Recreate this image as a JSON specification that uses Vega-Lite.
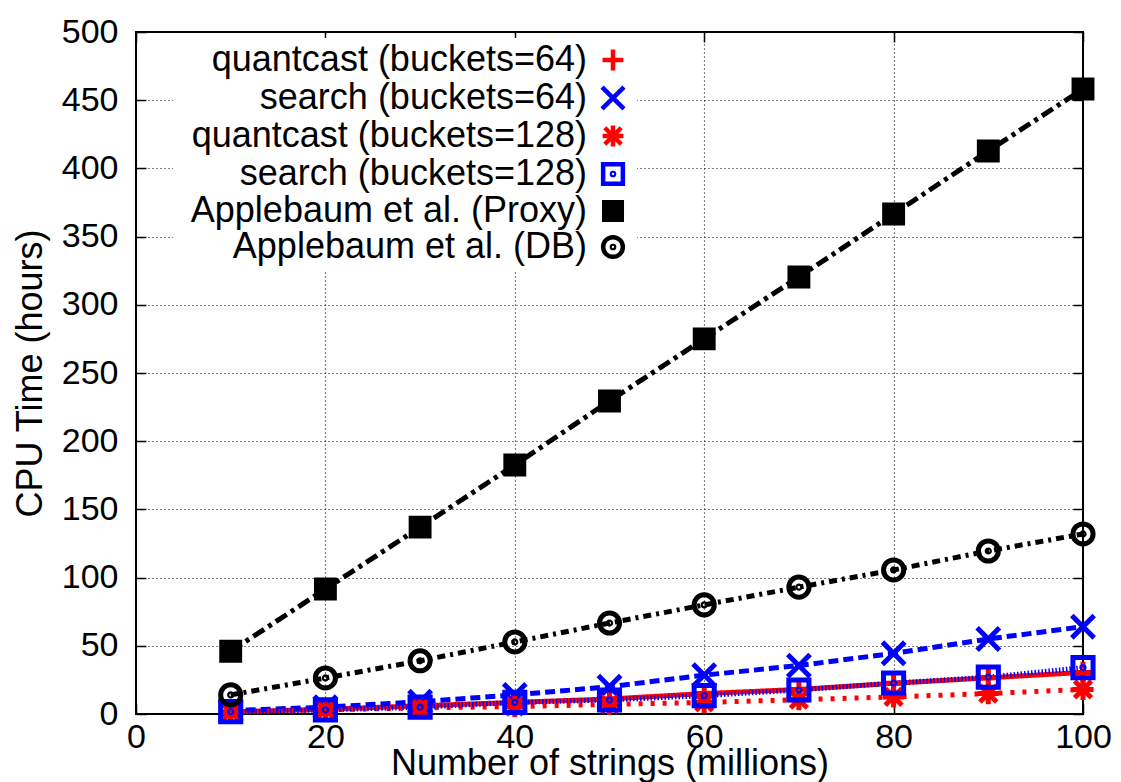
{
  "$schema": "https://vega.github.io/schema/vega-lite/v6.json",
  "autosize": {"type": "none"},
  "width": 947,
  "height": 682,
  "padding": {"left": 136, "top": 32, "right": 38, "bottom": 68},
  "background": "white",
  "data": {
    "values": [
      {"n": 10, "series": "quantcast (buckets=64)", "t": 1.5},
      {"n": 20, "series": "quantcast (buckets=64)", "t": 3.5},
      {"n": 30, "series": "quantcast (buckets=64)", "t": 6},
      {"n": 40, "series": "quantcast (buckets=64)", "t": 8.5},
      {"n": 50, "series": "quantcast (buckets=64)", "t": 11},
      {"n": 60, "series": "quantcast (buckets=64)", "t": 15},
      {"n": 70, "series": "quantcast (buckets=64)", "t": 18},
      {"n": 80, "series": "quantcast (buckets=64)", "t": 22.5},
      {"n": 90, "series": "quantcast (buckets=64)", "t": 26.5},
      {"n": 100, "series": "quantcast (buckets=64)", "t": 30.5},
      {"n": 10, "series": "search (buckets=64)", "t": 2.5},
      {"n": 20, "series": "search (buckets=64)", "t": 5},
      {"n": 30, "series": "search (buckets=64)", "t": 9},
      {"n": 40, "series": "search (buckets=64)", "t": 14},
      {"n": 50, "series": "search (buckets=64)", "t": 20},
      {"n": 60, "series": "search (buckets=64)", "t": 28.5},
      {"n": 70, "series": "search (buckets=64)", "t": 35.5},
      {"n": 80, "series": "search (buckets=64)", "t": 44.5},
      {"n": 90, "series": "search (buckets=64)", "t": 55},
      {"n": 100, "series": "search (buckets=64)", "t": 64},
      {"n": 10, "series": "quantcast (buckets=128)", "t": 1.5},
      {"n": 20, "series": "quantcast (buckets=128)", "t": 3},
      {"n": 30, "series": "quantcast (buckets=128)", "t": 4.5},
      {"n": 40, "series": "quantcast (buckets=128)", "t": 5.5},
      {"n": 50, "series": "quantcast (buckets=128)", "t": 7},
      {"n": 60, "series": "quantcast (buckets=128)", "t": 8.5},
      {"n": 70, "series": "quantcast (buckets=128)", "t": 10.5},
      {"n": 80, "series": "quantcast (buckets=128)", "t": 12.5},
      {"n": 90, "series": "quantcast (buckets=128)", "t": 15},
      {"n": 100, "series": "quantcast (buckets=128)", "t": 18},
      {"n": 10, "series": "search (buckets=128)", "t": 1.7},
      {"n": 20, "series": "search (buckets=128)", "t": 3},
      {"n": 30, "series": "search (buckets=128)", "t": 5},
      {"n": 40, "series": "search (buckets=128)", "t": 8.5},
      {"n": 50, "series": "search (buckets=128)", "t": 10.3},
      {"n": 60, "series": "search (buckets=128)", "t": 13.5},
      {"n": 70, "series": "search (buckets=128)", "t": 17.6},
      {"n": 80, "series": "search (buckets=128)", "t": 22.7},
      {"n": 90, "series": "search (buckets=128)", "t": 27},
      {"n": 100, "series": "search (buckets=128)", "t": 34},
      {"n": 10, "series": "Applebaum et al. (Proxy)", "t": 46},
      {"n": 20, "series": "Applebaum et al. (Proxy)", "t": 91.6},
      {"n": 30, "series": "Applebaum et al. (Proxy)", "t": 137},
      {"n": 40, "series": "Applebaum et al. (Proxy)", "t": 182.6},
      {"n": 50, "series": "Applebaum et al. (Proxy)", "t": 229.5},
      {"n": 60, "series": "Applebaum et al. (Proxy)", "t": 275},
      {"n": 70, "series": "Applebaum et al. (Proxy)", "t": 320.4},
      {"n": 80, "series": "Applebaum et al. (Proxy)", "t": 366.6},
      {"n": 90, "series": "Applebaum et al. (Proxy)", "t": 412.8},
      {"n": 100, "series": "Applebaum et al. (Proxy)", "t": 458.2},
      {"n": 10, "series": "Applebaum et al. (DB)", "t": 14},
      {"n": 20, "series": "Applebaum et al. (DB)", "t": 26.4},
      {"n": 30, "series": "Applebaum et al. (DB)", "t": 39},
      {"n": 40, "series": "Applebaum et al. (DB)", "t": 52.8},
      {"n": 50, "series": "Applebaum et al. (DB)", "t": 66.7},
      {"n": 60, "series": "Applebaum et al. (DB)", "t": 80},
      {"n": 70, "series": "Applebaum et al. (DB)", "t": 93},
      {"n": 80, "series": "Applebaum et al. (DB)", "t": 105.6},
      {"n": 90, "series": "Applebaum et al. (DB)", "t": 119.5},
      {"n": 100, "series": "Applebaum et al. (DB)", "t": 132}
    ]
  },
  "resolve": {"axis": {"x": "independent", "y": "independent"}},
  "layer": [
    {
      "mark": {"type": "line", "strokeWidth": 5, "strokeCap": "butt"},
      "encoding": {
        "x": {
          "field": "n", "type": "quantitative",
          "scale": {"domain": [0, 100], "nice": false},
          "axis": {
            "orient": "bottom", "values": [0, 20, 40, 60, 80, 100],
            "title": "Number of strings (millions)",
            "grid": true, "domain": false, "tickSize": -10, "labelPadding": 16, "titlePadding": -8
          }
        },
        "y": {
          "field": "t", "type": "quantitative",
          "scale": {"domain": [0, 500], "nice": false},
          "axis": {
            "orient": "left", "values": [0, 50, 100, 150, 200, 250, 300, 350, 400, 450, 500],
            "title": "CPU Time (hours)",
            "grid": true, "domain": false, "tickSize": -10, "labelPadding": 28, "titlePadding": 12
          }
        },
        "color": {
          "field": "series", "type": "nominal", "legend": null,
          "scale": {
            "domain": ["Applebaum et al. (DB)", "Applebaum et al. (Proxy)", "search (buckets=128)", "quantcast (buckets=128)", "search (buckets=64)", "quantcast (buckets=64)"],
            "range": ["#000000", "#000000", "#0000ff", "#ff0000", "#0000ff", "#ff0000"]
          }
        },
        "strokeDash": {
          "field": "series", "type": "nominal", "legend": null,
          "scale": {
            "domain": ["Applebaum et al. (DB)", "Applebaum et al. (Proxy)", "search (buckets=128)", "quantcast (buckets=128)", "search (buckets=64)", "quantcast (buckets=64)"],
            "range": [[8, 5, 3, 5], [13, 5, 4, 5], [1.5, 2], [4, 8], [10, 5], [1, 0]]
          }
        }
      }
    },
    {
      "mark": {"type": "point", "opacity": 1, "strokeWidth": 5, "size": 500, "strokeCap": "butt"},
      "encoding": {
        "x": {
          "field": "n", "type": "quantitative",
          "axis": {"orient": "top", "values": [0, 20, 40, 60, 80, 100], "labels": false, "title": null, "grid": false, "domain": false, "tickSize": -10}
        },
        "y": {
          "field": "t", "type": "quantitative",
          "axis": {"orient": "right", "values": [0, 50, 100, 150, 200, 250, 300, 350, 400, 450, 500], "labels": false, "title": null, "grid": false, "domain": false, "tickSize": -10}
        },
        "stroke": {
          "field": "series", "type": "nominal",
          "scale": {
            "domain": ["quantcast (buckets=64)", "search (buckets=64)", "quantcast (buckets=128)", "search (buckets=128)", "Applebaum et al. (Proxy)", "Applebaum et al. (DB)"],
            "range": ["#ff0000", "#0000ff", "#ff0000", "#0000ff", "#000000", "#000000"]
          },
          "legend": {
            "orient": "none", "legendX": 37, "legendY": 6, "title": null,
            "labelFont": "Liberation Sans", "labelFontSize": 36, "labelColor": "#000000",
            "labelAlign": "right", "labelOffset": -44, "symbolOffset": 418, "labelLimit": 1000,
            "symbolSize": 480, "symbolStrokeWidth": 4.5, "rowPadding": -3,
            "fillColor": "white", "padding": 4
          }
        },
        "fill": {
          "field": "series", "type": "nominal",
          "scale": {
            "domain": ["quantcast (buckets=64)", "search (buckets=64)", "quantcast (buckets=128)", "search (buckets=128)", "Applebaum et al. (Proxy)", "Applebaum et al. (DB)"],
            "range": ["transparent", "transparent", "transparent", "transparent", "#000000", "transparent"]
          }
        },
        "shape": {
          "field": "series", "type": "nominal",
          "scale": {
            "domain": ["quantcast (buckets=64)", "search (buckets=64)", "quantcast (buckets=128)", "search (buckets=128)", "Applebaum et al. (Proxy)", "Applebaum et al. (DB)"],
            "range": [
              "M-0.95,0H0.95M0,-0.95V0.95",
              "M-1,-1L1,1M1,-1L-1,1",
              "M-0.95,0H0.95M0,-0.95V0.95M-0.75,-0.75L0.75,0.75M0.75,-0.75L-0.75,0.75",
              "M-0.9,-0.9H0.9V0.9H-0.9ZM-0.1,0A0.1,0.1 0 1,0 0.1,0A0.1,0.1 0 1,0 -0.1,0",
              "M-0.8,-0.8H0.8V0.8H-0.8Z",
              "M-0.9,0A0.9,0.9 0 1,0 0.9,0A0.9,0.9 0 1,0 -0.9,0ZM-0.1,0A0.1,0.1 0 1,0 0.1,0A0.1,0.1 0 1,0 -0.1,0"
            ]
          }
        }
      }
    }
  ],
  "config": {
    "font": "Liberation Sans",
    "view": {"stroke": "#000000", "strokeWidth": 2},
    "axis": {
      "labelFont": "Liberation Sans", "labelFontSize": 34, "labelColor": "#000000",
      "titleFont": "Liberation Sans", "titleFontSize": 36, "titleFontWeight": "normal", "titleColor": "#000000",
      "tickColor": "#000000", "tickWidth": 1.5,
      "gridColor": "#000000", "gridDash": [1, 3], "gridWidth": 1.2, "gridOpacity": 1,
      "labelFlush": false, "labelOverlap": false
    }
  }
}
